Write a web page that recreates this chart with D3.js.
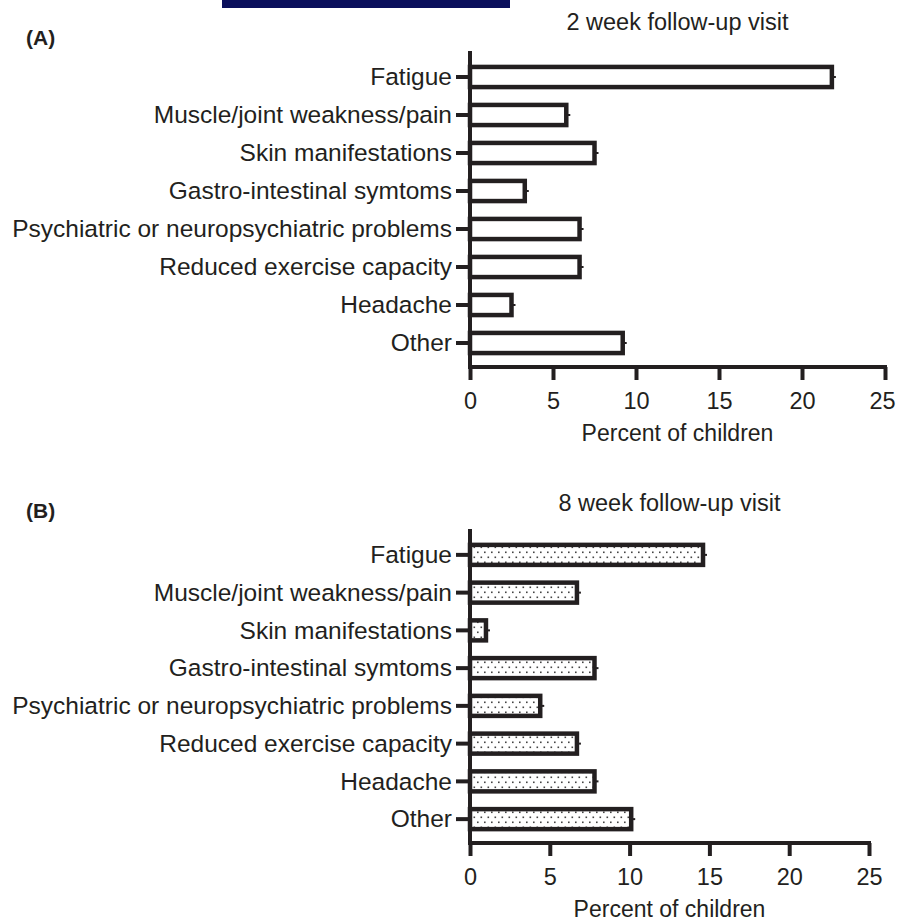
<!DOCTYPE html>
<html>
<head>
<meta charset="utf-8">
<script src="https://cdn.jsdelivr.net/npm/d3@7"></script>
<style>
  body { margin: 0; background: #fff; }
  svg { display: block; font-family: "Liberation Sans", Arial, Helvetica, sans-serif; }
</style>
</head>
<body>
<div id="chart"></div>
<script>
// symptom categories, same order in both panels
const symptoms = [
  'Fatigue',
  'Muscle/joint weakness/pain',
  'Skin manifestations',
  'Gastro-intestinal symtoms',
  'Psychiatric or neuropsychiatric problems',
  'Reduced exercise capacity',
  'Headache',
  'Other'
]

// percent of children
const week2 = [21.8, 5.8, 7.5, 3.3, 6.6, 6.6, 2.5, 9.2]
const week8 = [14.6, 6.7, 1.0, 7.8, 4.4, 6.7, 7.8, 10.1]

const xTicks = [0, 5, 10, 15, 20, 25]
const panelTitles = ['2 week follow-up visit', '8 week follow-up visit']
const panelLetters = ['(A)', '(B)']
const xTitle = 'Percent of children'

const W = 897
const H = 923
const ink = '#231f20'

const svg = d3.select('#chart').append('svg')
  .attr('width', W)
  .attr('height', H)

const defs = svg.append('defs')
const pat = defs.append('pattern')
  .attr('id', 'dots')
  .attr('patternUnits', 'userSpaceOnUse')
  .attr('width', 7)
  .attr('height', 10)
pat.append('rect').attr('width', 7).attr('height', 10).attr('fill', '#fff')
pat.append('rect').attr('x', 1).attr('y', 1.5).attr('width', 1.6).attr('height', 1.6).attr('fill', '#444')
pat.append('rect').attr('x', 4.5).attr('y', 6.5).attr('width', 1.6).attr('height', 1.6).attr('fill', '#444')

// navy strip at the top edge
svg.append('rect')
  .attr('x', 222).attr('y', 0)
  .attr('width', 288).attr('height', 8)
  .attr('fill', '#0a0f5c')

const panels = [
  { values: week2, fill: '#fff', x0: 470, x1: 885, yTop: 51, bandTop: 58, bandBottom: 362, axisY: 367, titleY: 30, letterY: 45 },
  { values: week8, fill: 'url(#dots)', x0: 470, x1: 869, yTop: 529, bandTop: 536, bandBottom: 838, axisY: 843, titleY: 511, letterY: 518 }
]

panels.forEach((p, k) => {
  const g = svg.append('g')

  const x = d3.scaleLinear().domain([0, 25]).range([p.x0, p.x1])
  const y = d3.scaleBand()
    .domain(symptoms)
    .range([p.bandTop, p.bandBottom])
    .paddingInner(0.47)
    .paddingOuter(0.235)

  const rows = symptoms.map((s, i) => ({ s, v: p.values[i] }))

  // bars
  g.selectAll('rect.bar')
    .data(rows)
    .join('rect')
    .attr('class', 'bar')
    .attr('x', x(0))
    .attr('y', d => y(d.s))
    .attr('width', d => x(d.v) - x(0))
    .attr('height', y.bandwidth())
    .attr('fill', p.fill)
    .attr('stroke', ink)
    .attr('stroke-width', 4.5)

  // tiny error caps at bar ends
  g.selectAll('line.err')
    .data(rows)
    .join('line')
    .attr('class', 'err')
    .attr('x1', d => x(d.v))
    .attr('x2', d => x(d.v) + 4)
    .attr('y1', d => y(d.s) + y.bandwidth() / 2)
    .attr('y2', d => y(d.s) + y.bandwidth() / 2)
    .attr('stroke', ink)
    .attr('stroke-width', 2)

  // y axis
  const yAxis = g.append('g')
    .attr('transform', 'translate(' + x(0) + ',0)')
    .call(d3.axisLeft(y).tickSize(14).tickPadding(4))
  yAxis.select('.domain')
    .attr('d', 'M0,' + p.yTop + 'V' + (p.axisY + 2))
  yAxis.selectAll('.domain, .tick line')
    .attr('stroke', ink)
    .attr('stroke-width', 4)
  yAxis.selectAll('.tick text')
    .attr('fill', ink)
    .attr('font-size', 24.5)
    .attr('font-family', '"Liberation Sans", Arial, sans-serif')
    .attr('dy', '0.34em')

  // x axis
  const xAxis = g.append('g')
    .attr('transform', 'translate(0,' + p.axisY + ')')
    .call(d3.axisBottom(x).tickValues(xTicks).tickSize(13).tickPadding(12).tickSizeOuter(0))
  xAxis.select('.domain')
    .attr('d', 'M' + (p.x0 - 2) + ',0H' + (p.x1 + 2))
  xAxis.selectAll('.domain, .tick line')
    .attr('stroke', ink)
    .attr('stroke-width', 4)
  xAxis.selectAll('.tick text')
    .attr('fill', ink)
    .attr('font-size', 23.5)
    .attr('font-family', '"Liberation Sans", Arial, sans-serif')
  // keep the last label inside the page edge
  xAxis.selectAll('.tick text')
    .filter(d => x(d) + 14 > W)
    .attr('dx', W - 15 - x(25))

  g.append('text')
    .attr('x', (p.x0 + p.x1) / 2)
    .attr('y', p.axisY + 74)
    .attr('text-anchor', 'middle')
    .attr('font-size', 23)
    .attr('fill', ink)
    .text(xTitle)

  g.append('text')
    .attr('x', (p.x0 + p.x1) / 2)
    .attr('y', p.titleY)
    .attr('text-anchor', 'middle')
    .attr('font-size', 23.5)
    .attr('fill', ink)
    .text(panelTitles[k])

  g.append('text')
    .attr('x', 26)
    .attr('y', p.letterY)
    .attr('font-size', 21)
    .attr('font-weight', 'bold')
    .attr('fill', ink)
    .text(panelLetters[k])
})
</script>
</body>
</html>
